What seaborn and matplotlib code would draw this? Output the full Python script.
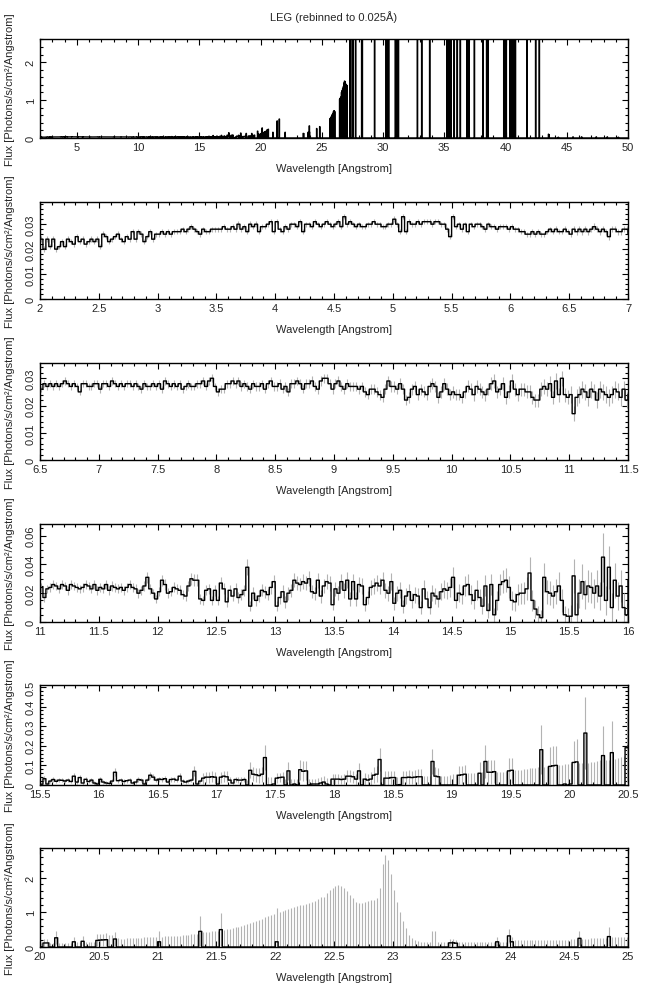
import numpy as np
import matplotlib
matplotlib.use("Agg")
import matplotlib.pyplot as plt
from matplotlib.ticker import MultipleLocator, FormatStrFormatter
import seaborn as sns

BIN = 0.025  # Angstrom, rebinned grid

# Flux in 1e-3 photons/s/cm2/A, one row per 0.5 A (20 bins of 0.025 A)
flux_02_65 = [
    [24, 20, 24, 21, 24, 20, 21, 23, 21, 24, 23, 22, 25, 23, 24, 22, 23, 24, 23, 24],
    [21, 26, 25, 23, 24, 25, 26, 24, 23, 25, 24, 27, 24, 27, 26, 23, 25, 27, 24, 26],
    [26, 27, 26, 27, 26, 27, 27, 27, 28, 27, 28, 29, 28, 27, 26, 28, 27, 27, 28, 28],
    [28, 28, 29, 28, 28, 29, 28, 30, 28, 29, 27, 30, 29, 30, 27, 29, 29, 30, 31, 27],
    [31, 28, 27, 29, 28, 30, 30, 29, 31, 27, 30, 30, 29, 31, 30, 29, 30, 31, 30, 29],
    [30, 31, 29, 33, 30, 31, 30, 29, 30, 29, 29, 30, 30, 31, 30, 30, 29, 29, 30, 30],
    [32, 30, 27, 33, 27, 31, 30, 30, 31, 30, 31, 31, 31, 30, 31, 31, 30, 30, 28, 25],
    [33, 29, 30, 28, 30, 27, 30, 29, 30, 30, 29, 28, 30, 29, 29, 28, 29, 29, 29, 28],
    [29, 28, 28, 27, 27, 26, 26, 27, 26, 27, 26, 26, 27, 28, 27, 28, 27, 27, 28, 27],
]
err_02_65 = [
    [1.2, 1.1, 1.2, 1.1, 1.2, 1.1, 1.1, 1.2, 1.1, 1.2, 1.1, 1.1, 1.2, 1.1, 1.1, 1.1, 1.1, 1.1, 1.1, 1.1],
    [1.0, 1.1, 1.1, 1.0, 1.0, 1.1, 1.1, 1.0, 1.0, 1.0, 1.0, 1.1, 1.0, 1.1, 1.1, 1.0, 1.0, 1.1, 1.0, 1.0],
    [1.0, 1.0, 1.0, 1.0, 1.0, 1.0, 1.0, 1.0, 1.0, 1.0, 1.0, 1.1, 1.0, 1.0, 1.0, 1.0, 1.0, 1.0, 1.0, 1.0],
    [1.0, 1.0, 1.0, 1.0, 1.0, 1.0, 1.0, 1.1, 1.0, 1.0, 1.0, 1.1, 1.0, 1.1, 1.0, 1.0, 1.0, 1.1, 1.1, 1.0],
    [1.1, 1.0, 1.0, 1.0, 1.0, 1.0, 1.0, 1.0, 1.1, 1.0, 1.0, 1.0, 1.0, 1.1, 1.0, 1.0, 1.0, 1.1, 1.0, 1.0],
    [1.0, 1.1, 1.0, 1.1, 1.0, 1.1, 1.0, 1.0, 1.0, 1.0, 1.0, 1.0, 1.0, 1.1, 1.0, 1.0, 1.0, 1.0, 1.0, 1.0],
    [1.1, 1.0, 1.0, 1.1, 1.0, 1.1, 1.0, 1.0, 1.1, 1.0, 1.1, 1.1, 1.1, 1.0, 1.1, 1.1, 1.0, 1.0, 1.0, 1.0],
    [1.1, 1.0, 1.0, 1.0, 1.0, 1.0, 1.0, 1.0, 1.0, 1.0, 1.0, 1.0, 1.0, 1.0, 1.0, 1.0, 1.0, 1.0, 1.0, 1.0],
    [1.0, 1.0, 1.0, 1.0, 1.0, 1.0, 1.0, 1.0, 1.0, 1.0, 1.0, 1.0, 1.0, 1.0, 1.0, 1.1, 1.0, 1.0, 1.1, 1.0],
]

flux_65_110 = [
    [26, 28, 27, 28, 27, 28, 27, 28, 29, 28, 27, 28, 27, 25, 28, 28, 27, 27, 28, 28],
    [26, 28, 28, 27, 29, 28, 27, 28, 27, 28, 28, 27, 28, 27, 26, 28, 27, 27, 28, 27],
    [28, 26, 29, 28, 27, 28, 27, 28, 26, 27, 28, 27, 27, 28, 28, 29, 27, 29, 30, 27],
    [25, 26, 26, 28, 28, 29, 28, 29, 27, 28, 27, 26, 28, 27, 27, 28, 26, 28, 29, 27],
    [27, 28, 26, 27, 25, 28, 28, 29, 28, 26, 28, 28, 29, 27, 26, 29, 30, 30, 28, 26],
    [28, 29, 27, 26, 28, 27, 27, 27, 26, 27, 25, 24, 26, 26, 25, 24, 23, 26, 29, 27],
    [27, 26, 28, 26, 22, 23, 26, 27, 24, 26, 25, 24, 27, 28, 27, 23, 25, 28, 26, 24],
    [25, 24, 24, 23, 25, 27, 26, 24, 27, 26, 25, 24, 26, 28, 29, 25, 26, 28, 23, 25],
    [29, 26, 24, 26, 26, 25, 25, 23, 22, 22, 26, 27, 26, 28, 23, 29, 24, 30, 24, 23],
]
err_65_110 = [
    [1.2, 1.3, 1.2, 1.3, 1.2, 1.3, 1.2, 1.3, 1.3, 1.3, 1.2, 1.3, 1.2, 1.2, 1.3, 1.3, 1.2, 1.2, 1.3, 1.3],
    [1.3, 1.3, 1.3, 1.3, 1.4, 1.3, 1.3, 1.3, 1.3, 1.3, 1.3, 1.3, 1.3, 1.3, 1.3, 1.3, 1.3, 1.3, 1.3, 1.3],
    [1.4, 1.3, 1.4, 1.4, 1.4, 1.4, 1.4, 1.4, 1.3, 1.4, 1.4, 1.4, 1.4, 1.4, 1.4, 1.5, 1.4, 1.5, 1.5, 1.4],
    [1.4, 1.4, 1.4, 1.5, 1.5, 1.5, 1.5, 1.5, 1.5, 1.5, 1.5, 1.5, 1.5, 1.5, 1.5, 1.5, 1.5, 1.5, 1.6, 1.5],
    [1.5, 1.6, 1.5, 1.6, 1.5, 1.6, 1.6, 1.6, 1.6, 1.5, 1.6, 1.6, 1.7, 1.6, 1.6, 1.7, 1.7, 1.7, 1.7, 1.6],
    [1.7, 1.7, 1.7, 1.7, 1.7, 1.7, 1.7, 1.7, 1.7, 1.7, 1.7, 1.7, 1.8, 1.8, 1.8, 1.8, 1.8, 1.8, 2.0, 1.9],
    [1.9, 1.9, 2.0, 1.9, 1.8, 1.9, 2.0, 2.0, 1.9, 2.0, 2.0, 2.0, 2.1, 2.1, 2.1, 2.0, 2.1, 2.2, 2.1, 2.1],
    [2.1, 2.1, 2.1, 2.1, 2.2, 2.2, 2.2, 2.2, 2.3, 2.2, 2.2, 2.2, 2.3, 2.4, 2.4, 2.3, 2.3, 2.4, 2.3, 2.4],
    [2.5, 2.4, 2.4, 2.4, 2.4, 2.4, 2.4, 2.4, 2.4, 2.4, 2.6, 2.6, 2.6, 2.7, 2.5, 2.8, 2.6, 2.8, 2.6, 2.6],
]

flux_110_155 = [
    [24, 17, 23, 24, 26, 25, 23, 26, 25, 22, 26, 25, 24, 23, 24, 26, 25, 23, 26, 22],
    [24, 23, 26, 22, 25, 24, 23, 24, 22, 24, 26, 24, 23, 20, 22, 25, 31, 23, 20, 16],
    [21, 29, 26, 20, 21, 24, 23, 22, 19, 18, 25, 30, 29, 29, 16, 15, 22, 23, 15, 22],
    [15, 27, 23, 14, 22, 18, 23, 17, 19, 22, 38, 11, 20, 15, 18, 22, 21, 19, 24, 28],
    [11, 17, 21, 14, 20, 22, 29, 27, 26, 28, 27, 30, 21, 20, 29, 18, 25, 28, 27, 12],
    [23, 20, 28, 22, 29, 16, 28, 16, 26, 25, 12, 17, 24, 25, 27, 25, 29, 22, 20, 28],
    [13, 20, 22, 11, 18, 21, 15, 19, 18, 10, 23, 16, 10, 20, 18, 16, 21, 23, 22, 24],
    [31, 15, 20, 19, 25, 26, 19, 15, 22, 17, 11, 25, 8, 26, 5, 15, 26, 28, 29, 24],
    [15, 14, 19, 20, 20, 23, 34, 15, 9, 5, 3, 31, 21, 20, 18, 21, 25, 15, 5, 4],
]
err_110_155 = [
    [3.0, 2.8, 3.0, 3.0, 3.1, 3.0, 3.0, 3.1, 3.0, 3.0, 3.1, 3.0, 3.0, 3.0, 3.0, 3.1, 3.1, 3.0, 3.1, 3.0],
    [3.1, 3.1, 3.2, 3.0, 3.2, 3.1, 3.1, 3.2, 3.1, 3.2, 3.3, 3.2, 3.2, 3.1, 3.2, 3.3, 3.8, 3.3, 3.2, 3.0],
    [3.2, 3.8, 3.6, 3.3, 3.3, 3.5, 3.5, 3.4, 3.3, 3.3, 3.6, 4.0, 4.0, 4.0, 3.2, 3.2, 3.6, 3.7, 3.3, 3.7],
    [3.3, 4.2, 3.9, 3.3, 3.9, 3.6, 4.0, 3.6, 3.8, 4.0, 5.5, 3.3, 4.0, 3.7, 3.9, 4.2, 4.2, 4.0, 4.5, 4.6],
    [3.6, 4.2, 4.5, 4.0, 4.4, 4.6, 5.0, 4.9, 4.8, 5.0, 5.0, 5.2, 4.6, 4.6, 5.2, 4.5, 5.0, 5.2, 5.2, 4.0],
    [5.0, 4.8, 5.4, 5.0, 5.5, 4.6, 5.5, 4.6, 5.3, 5.3, 4.2, 4.8, 5.2, 5.4, 5.6, 5.4, 5.8, 5.2, 5.1, 5.8],
    [4.5, 5.3, 5.5, 4.5, 5.3, 5.6, 5.0, 5.5, 5.4, 4.6, 5.8, 5.2, 4.6, 5.7, 5.5, 5.4, 6.0, 6.2, 6.1, 6.4],
    [7.2, 5.6, 6.3, 6.2, 7.0, 7.2, 6.4, 6.0, 6.8, 6.2, 5.6, 7.3, 5.2, 7.6, 5.0, 6.4, 7.6, 8.0, 8.2, 7.6],
    [6.5, 6.4, 7.2, 7.4, 7.5, 8.0, 11.0, 7.2, 6.4, 5.8, 5.5, 10.0, 8.4, 8.4, 8.0, 8.8, 9.5, 7.8, 6.2, 6.0],
]

flux_155_200 = [
    [4, 32, 5, 20, 28, 19, 25, 24, 20, 25, 18, 45, 15, 38, 10, 29, 18, 25, 10, 5],
    [29, 15, 10, 8, 20, 65, 22, 25, 18, 22, 25, 10, 15, 28, 25, 5, 25, 50, 40, 25],
    [30, 28, 32, 15, 28, 30, 25, 45, 20, 15, 20, 25, 70, 5, 20, 35, 40, 40, 42, 40],
    [5, 40, 45, 42, 25, 10, 28, 25, 25, 28, 0, 75, 55, 52, 48, 55, 140, 0, 0, 5],
    [35, 38, 40, 0, 72, 0, 5, 0, 78, 70, 72, 0, 5, 5, 5, 10, 15, 5, 0, 30],
    [30, 30, 28, 30, 45, 45, 42, 30, 72, 0, 30, 25, 30, 50, 55, 130, 0, 35, 35, 38],
    [38, 0, 2, 38, 38, 40, 38, 40, 42, 42, 0, 0, 0, 120, 45, 42, 0, 0, 0, 0],
    [0, 0, 50, 52, 55, 0, 0, 0, 0, 60, 0, 120, 65, 65, 68, 0, 0, 0, 0, 72],
    [75, 0, 0, 0, 0, 0, 0, 0, 0, 0, 180, 0, 0, 95, 98, 100, 0, 0, 5, 0],
]
err_155_200 = [
    [8, 12, 8, 10, 12, 10, 11, 11, 10, 11, 10, 17, 10, 15, 10, 12, 10, 11, 10, 8],
    [12, 10, 10, 10, 11, 20, 11, 12, 11, 11, 12, 10, 10, 12, 12, 10, 12, 18, 15, 12],
    [13, 12, 13, 11, 12, 13, 12, 16, 12, 11, 12, 12, 25, 10, 12, 28, 28, 28, 28, 28],
    [15, 28, 28, 28, 15, 15, 15, 15, 15, 15, 25, 40, 35, 35, 38, 38, 65, 40, 40, 20],
    [25, 25, 28, 30, 45, 30, 28, 30, 50, 50, 48, 30, 28, 28, 30, 30, 30, 30, 30, 25],
    [25, 25, 25, 25, 30, 30, 30, 28, 40, 35, 30, 30, 35, 40, 40, 60, 40, 35, 35, 35],
    [35, 40, 40, 35, 35, 35, 35, 38, 38, 38, 45, 45, 45, 65, 45, 45, 48, 48, 48, 50],
    [55, 55, 45, 45, 45, 60, 60, 60, 60, 55, 65, 85, 60, 60, 60, 65, 65, 65, 70, 65],
    [65, 75, 75, 78, 80, 82, 85, 85, 88, 90, 125, 90, 95, 100, 100, 100, 100, 100, 102, 105],
]

flux_200_250 = [
    [5, 115, 118, 0, 0, 265, 0, 0, 0, 0, 0, 150, 0, 0, 165, 0, 0, 0, 0, 190],
    [200, 205, 210, 0, 0, 230, 0, 0, 0, 0, 0, 0, 0, 0, 0, 0, 0, 0, 0, 0],
    [150, 0, 0, 0, 0, 0, 0, 0, 0, 0, 0, 0, 0, 0, 450, 0, 0, 0, 0, 0],
    [0, 500, 0, 0, 0, 0, 0, 0, 0, 0, 0, 0, 0, 0, 0, 0, 0, 0, 0, 0],
    [150, 0, 0, 0, 0, 0, 0, 0, 0, 0, 0, 0, 0, 0, 0, 0, 0, 0, 0, 0],
    [0, 0, 0, 0, 0, 0, 0, 0, 0, 0, 0, 0, 0, 0, 0, 0, 0, 0, 0, 0],
    [0, 0, 0, 0, 0, 0, 0, 0, 0, 0, 0, 0, 0, 0, 0, 0, 0, 0, 0, 120],
    [120, 110, 0, 0, 0, 0, 0, 0, 0, 0, 0, 0, 0, 0, 0, 150, 0, 0, 0, 320],
    [150, 0, 0, 0, 0, 0, 0, 0, 0, 0, 0, 0, 0, 0, 0, 0, 0, 0, 0, 0],
    [0, 0, 0, 250, 0, 0, 0, 0, 0, 0, 0, 0, 0, 300, 0, 0, 0, 0, 0, 0],
]
err_200_250 = [
    [105, 110, 115, 110, 110, 185, 110, 115, 118, 120, 125, 150, 130, 130, 160, 135, 140, 145, 150, 175],
    [175, 180, 185, 350, 350, 190, 250, 240, 240, 250, 250, 260, 260, 270, 270, 280, 280, 290, 290, 300],
    [300, 300, 310, 310, 320, 320, 330, 330, 340, 340, 350, 360, 370, 380, 430, 420, 430, 440, 450, 460],
    [470, 480, 490, 510, 530, 550, 570, 590, 610, 640, 670, 700, 730, 760, 790, 820, 850, 880, 910, 940],
    [970, 1000, 1030, 1060, 1090, 1110, 1140, 1170, 1200, 1220, 1250, 1270, 1300, 1330, 1380, 1430, 1450, 1550, 1650, 1700],
    [1750, 1780, 1750, 1700, 1600, 1500, 1400, 1300, 1280, 1280, 1300, 1320, 1350, 1350, 1400, 1700, 2400, 2650, 2500, 2100],
    [1650, 1300, 1000, 750, 550, 350, 250, 200, 170, 150, 150, 150, 150, 450, 450, 150, 150, 150, 150, 100],
    [100, 100, 150, 150, 150, 150, 150, 150, 150, 150, 150, 150, 150, 150, 150, 130, 150, 150, 150, 200],
    [150, 190, 190, 190, 190, 190, 195, 195, 195, 200, 200, 200, 200, 205, 205, 205, 210, 210, 210, 215],
    [220, 220, 225, 200, 230, 235, 240, 245, 250, 255, 260, 265, 270, 280, 280, 285, 290, 290, 295, 300],
]

# Long-wavelength part (25-50 A), only shown in the overview: non-zero bins
long_wave = [25.65, 25.70, 25.75, 25.80, 25.85, 25.90, 25.95, 26.00, 26.05,
             26.45, 26.50, 26.55, 26.60, 26.65, 26.70, 26.75, 26.80, 26.85, 26.90, 26.95, 27.00, 27.05,
             27.30, 27.35, 27.55, 27.75, 28.25, 28.30, 29.30, 30.25, 30.30, 30.40, 30.45,
             31.00, 31.05, 31.20, 31.25, 32.80, 33.15, 33.80, 35.20, 35.30, 35.40, 35.55,
             35.80, 36.05, 36.30, 36.85, 36.95, 37.00, 37.45, 38.15, 38.45, 38.55,
             39.85, 39.95, 40.05, 40.35, 40.45, 40.55, 40.65, 40.75, 40.80, 41.75, 42.45, 42.75,
             43.50, 43.55, 44.30, 45.50, 46.20, 47.40, 48.30, 49.20]
long_flux = [0.50, 0.52, 0.55, 0.58, 0.62, 0.65, 0.70, 0.72, 0.70,
             1.02, 1.05, 1.08, 1.20, 1.25, 1.30, 1.35, 1.45, 1.50, 1.48, 1.42, 1.40, 1.38,
             9, 9, 9, 9, 9, 9, 9, 9, 9, 9, 9,
             9, 9, 9, 9, 9, 9, 9, 9, 9, 9, 9,
             9, 9, 9, 9, 9, 9, 9, 9, 9, 9,
             9, 9, 9, 9, 9, 9, 9, 9, 9, 9, 9, 9,
             0.10, 0.08, 0.02, 0.03, 0.03, 0.03, 0.03, 0.02]

segments = [(flux_02_65, err_02_65), (flux_65_110, err_65_110), (flux_110_155, err_110_155),
            (flux_155_200, err_155_200), (flux_200_250, err_200_250)]
flux_fine = np.concatenate([np.ravel(f) for f, _ in segments]) * 1e-3
err_fine = np.concatenate([np.ravel(e) for _, e in segments]) * 1e-3
assert len(flux_fine) == len(err_fine) == 920

flux_long = np.zeros(1000)
flux_long[np.rint((np.array(long_wave) - 25.0) / BIN).astype(int)] = long_flux
flux_all = np.concatenate([flux_fine, flux_long])
edges = 2.0 + BIN * np.arange(len(flux_all) + 1)

sns.set_theme(style="ticks")
plt.rcParams["font.family"] = ["Liberation Sans", "DejaVu Sans"]
plt.rcParams["font.size"] = 8

ERR_COLOR = "#b3b3b3"


def draw_steps(ax, flux):
    x = edges[:len(flux) + 1]
    y = np.append(flux, flux[-1])
    sns.lineplot(x=x, y=y, ax=ax, drawstyle="steps-post", estimator=None, sort=False,
                 color="black", linewidth=1.0, zorder=3)


def draw_errors(ax, flux, err):
    centers = edges[:len(flux)] + BIN / 2
    ax.vlines(centers, flux - err, flux + err, color=ERR_COLOR, linewidth=0.8, zorder=2)


panels = [
    dict(xlim=(2, 50), ylim=(0, 2.61), xmaj=5, xmin=1, ymaj=1, ymin=0.2, err=False),
    dict(xlim=(2, 7), ylim=(0, 0.0389), xmaj=0.5, xmin=0.1, ymaj=0.01, ymin=0.002, err=True),
    dict(xlim=(6.5, 11.5), ylim=(0, 0.0356), xmaj=0.5, xmin=0.1, ymaj=0.01, ymin=0.002, err=True),
    dict(xlim=(11, 16), ylim=(0, 0.068), xmaj=0.5, xmin=0.1, ymaj=0.02, ymin=0.005, err=True),
    dict(xlim=(15.5, 20.5), ylim=(0, 0.51), xmaj=0.5, xmin=0.1, ymaj=0.1, ymin=0.02, err=True),
    dict(xlim=(20, 25), ylim=(0, 2.85), xmaj=0.5, xmin=0.1, ymaj=1, ymin=0.2, err=True),
]
tops = [40, 203, 364, 525, 686, 849]
bottoms = [139, 300, 461, 623, 786, 948]
W, H = 647, 995

fig = plt.figure(figsize=(W / 100, H / 100), dpi=100)
for p, top, bot in zip(panels, tops, bottoms):
    ax = fig.add_axes([40 / W, 1 - bot / H, 588 / W, (bot - top) / H])
    if p["err"]:
        draw_errors(ax, flux_fine, err_fine)
        draw_steps(ax, flux_fine)
    else:
        draw_steps(ax, flux_all)
    ax.set_xlim(*p["xlim"])
    ax.set_ylim(*p["ylim"])
    ax.xaxis.set_major_locator(MultipleLocator(p["xmaj"]))
    ax.xaxis.set_minor_locator(MultipleLocator(p["xmin"]))
    ax.yaxis.set_major_locator(MultipleLocator(p["ymaj"]))
    ax.yaxis.set_minor_locator(MultipleLocator(p["ymin"]))
    ax.xaxis.set_major_formatter(FormatStrFormatter("%g"))
    ax.yaxis.set_major_formatter(FormatStrFormatter("%g"))
    ax.tick_params(which="both", direction="in", top=True, right=True, width=0.8,
                   labelsize=8, pad=3, color="black")
    ax.tick_params(which="major", length=4)
    ax.tick_params(which="minor", length=2)
    ax.tick_params(axis="y", labelrotation=90)
    for lab in ax.get_yticklabels():
        lab.set_va("center")
    for s in ax.spines.values():
        s.set_linewidth(1.0)
        s.set_color("black")
    ax.set_xlabel("Wavelength [Angstrom]", fontsize=8, labelpad=8)
    ax.set_ylabel("Flux [Photons/s/cm²/Angstrom]", fontsize=8)
    ax.yaxis.set_label_coords(-25 / 588, 0.5)
    ax.grid(False)

fig.text(334 / W, 1 - 17 / H, "LEG (rebinned to 0.025Å)", ha="center", va="center", fontsize=8)
fig.savefig("out.png", dpi=100)
